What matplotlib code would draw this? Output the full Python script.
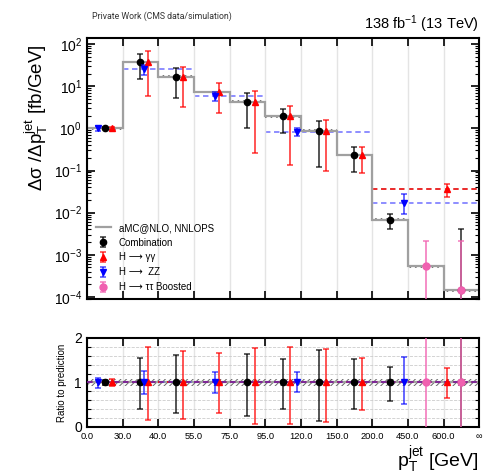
import numpy as np
import matplotlib
matplotlib.use("Agg")
import matplotlib.pyplot as plt
from matplotlib.ticker import MultipleLocator, FixedLocator, LogLocator, NullFormatter

plt.rcParams['font.family'] = ['Liberation Sans', 'DejaVu Sans']
plt.rcParams['mathtext.fontset'] = 'custom'
plt.rcParams['mathtext.rm'] = 'Liberation Sans'
plt.rcParams['mathtext.it'] = 'Liberation Sans:italic'
plt.rcParams['mathtext.bf'] = 'Liberation Sans:bold'
plt.rcParams['hatch.linewidth'] = 0.7

# ---------------- data ----------------
edge_labels = ["0.0", "30.0", "40.0", "55.0", "75.0", "95.0", "120.0",
               "150.0", "200.0", "450.0", "600.0", "∞"]
prediction = [1.0, 38.0, 16.8, 7.3, 4.3, 1.92, 0.88, 0.233, 0.0068, 5.3e-4, 1.44e-4]
pred_unc = 0.07

comb_lo = [0, 1, 2, 4, 5, 6, 7, 8, 10]
comb_hi = [1, 2, 3, 5, 6, 7, 8, 9, 11]
comb_val = [1.0, 38.0, 16.8, 4.3, 1.92, 0.88, 0.233, 0.0068, 1.44e-4]
comb_up = [1.05, 1.55, 1.61, 1.63, 1.52, 1.73, 1.52, 1.35, 28.0]
comb_dn = [0.94, 0.40, 0.31, 0.24, 0.40, 0.14, 0.40, 0.59, -5.0]

gg_lo = [0, 1, 2, 3, 4, 5, 6, 7, 8]
gg_hi = [1, 2, 3, 4, 5, 6, 7, 8, 11]
gg_val = [1.0, 38.0, 16.8, 7.3, 4.3, 1.92, 0.88, 0.233, 0.036]
gg_up = [1.08, 1.80, 1.71, 1.66, 1.78, 1.80, 1.75, 1.54, 1.32]
gg_dn = [0.91, 0.155, 0.19, 0.32, 0.06, 0.07, 0.11, 0.38, 0.65]

zz_lo = [0, 1, 3, 5, 8]
zz_hi = [1, 3, 5, 8, 11]
zz_val = [1.0, 25.5, 5.8, 0.83, 0.0174]
zz_up = [1.11, 1.26, 1.23, 1.23, 1.57]
zz_dn = [0.88, 0.74, 0.77, 0.78, 0.52]

tt_lo = [9, 10]
tt_hi = [10, 11]
tt_val = [5.3e-4, 1.44e-4]
tt_up = [4.1, 15.0]
tt_dn = [-5.0, -5.0]

# ---------------- figure ----------------
fig = plt.figure(figsize=(4.88, 4.76), dpi=100)
ax = fig.add_axes([0.178, 0.372, 0.804, 0.548])
axr = fig.add_axes([0.178, 0.103, 0.804, 0.187])

nb = len(prediction)
edges = np.arange(nb + 1)
pred = np.array(prediction)

for a in (ax, axr):
    a.set_xlim(0, nb)
    a.xaxis.set_major_locator(FixedLocator(edges))
    a.grid(axis='x', color='#e4e4e4', lw=1.0, zorder=0)
    for s in a.spines.values():
        s.set_linewidth(1.5)
    a.tick_params(which='both', direction='in', top=True, right=True)
    a.tick_params(which='major', length=6, width=1.2)
    a.tick_params(which='minor', length=3, width=0.8)

# prediction main
ax.fill_between(edges, np.append(pred, pred[-1]) * (1 - pred_unc),
                np.append(pred, pred[-1]) * (1 + pred_unc), step='post',
                facecolor='none', edgecolor='#666666', hatch='//////', lw=0, zorder=2)
ax.stairs(pred, edges, color='#a0a0a0', lw=1.6, baseline=None, zorder=2.5,
          label='aMC@NLO, NNLOPS')

# prediction ratio
axr.fill_between([0, nb], [1 - pred_unc] * 2, [1 + pred_unc] * 2,
                 facecolor='none', edgecolor='#666666', hatch='//////', lw=0, zorder=2)
axr.axhline(1.0, color='#a0a0a0', lw=1.6, zorder=2.5)


def draw(lo, hi, val, up, dn, color, ecolor, marker, ms, shift, label, z, dashed, dls_color=None):
    lo = np.array(lo, float); hi = np.array(hi, float)
    val = np.array(val); up = np.array(up); dn = np.array(dn)
    w = hi - lo
    x = (lo + hi) / 2 + shift * w
    lower = np.maximum(val * dn, 1e-9)
    ax.errorbar(x, val, yerr=[val - lower, val * up - val], fmt=marker, color=color,
                ecolor=ecolor, ms=ms, capsize=2, elinewidth=1.3, capthick=1.2,
                zorder=z, label=label)
    ratio = val / val
    axr.errorbar(x, ratio, yerr=[ratio - dn, up - ratio], fmt=marker, color=color,
                 ecolor=ecolor, ms=ms, capsize=2, elinewidth=1.3, capthick=1.2, zorder=z)
    if dashed:
        ax.hlines(val, lo, hi, colors=dls_color, linestyles=(0, (3, 2)), lw=1.3, zorder=1.5)
        axr.hlines(ratio, lo, hi, colors=dls_color, linestyles=(0, (3, 2)), lw=1.3, zorder=2.6)


draw(comb_lo, comb_hi, comb_val, comb_up, comb_dn, 'black', (0, 0, 0, 0.72), 'o', 4.5, 0.0,
     'Combination', 3, False)
draw(gg_lo, gg_hi, gg_val, gg_up, gg_dn, 'red', (1, 0, 0, 0.72), '^', 5, 0.2,
     'H ⟶ γγ', 4, True, (0.9, 0, 0, 0.9))
draw(zz_lo, zz_hi, zz_val, zz_up, zz_dn, 'blue', (0, 0, 1, 0.65), 'v', 5, -0.2,
     'H ⟶  ZZ', 4, True, (0.2, 0.2, 1, 0.6))
draw(tt_lo, tt_hi, tt_val, tt_up, tt_dn, '#f060b0', (0.95, 0.4, 0.7, 0.8), 'o', 5, 0.0,
     'H ⟶ ττ Boosted', 5, False)

# main axis
ax.set_yscale('log')
ax.set_ylim(8.97e-5, 138.7)
ax.yaxis.set_major_locator(LogLocator(base=10, numticks=20))
ax.yaxis.set_minor_locator(LogLocator(base=10, subs=np.arange(2, 10), numticks=20))
ax.yaxis.set_minor_formatter(NullFormatter())
ax.tick_params(axis='x', labelbottom=False)
ax.tick_params(axis='y', labelsize=10)
ax.set_ylabel(r'Δσ /Δ$\mathrm{p}_{\mathrm{T}}^{\mathrm{jet}}$ [fb/GeV]',
              fontsize=13.5, loc='top')
ax.yaxis.set_label_coords(-0.095, 0.975)

h, l = ax.get_legend_handles_labels()
ax.legend(h, l, loc='lower left', bbox_to_anchor=(0.005, 0.0), frameon=False, fontsize=7,
          handlelength=1.6, handletextpad=0.8, labelspacing=0.5, borderaxespad=0.3)

# ratio axis
axr.set_ylim(0, 2)
axr.yaxis.set_major_locator(FixedLocator([0, 1, 2]))
axr.yaxis.set_minor_locator(MultipleLocator(0.2))
axr.grid(axis='y', which='both', ls='--', color='#cccccc', lw=0.6, zorder=0)
axr.tick_params(axis='y', labelsize=10)
axr.set_xticklabels(edge_labels, fontsize=6.7)
axr.set_ylabel('Ratio to prediction', fontsize=7)
axr.yaxis.set_label_coords(-0.05, 0.5)
axr.set_xlabel(r'$\mathrm{p}_{\mathrm{T}}^{\mathrm{jet}}$ [GeV]', fontsize=14, loc='right')
axr.xaxis.set_label_coords(1.0, -0.2)

fig.text(0.188, 0.966, 'Private Work (CMS data/simulation)', fontsize=6.3,
         family=['Roboto', 'DejaVu Sans'], color='#333333', va='center')
fig.text(0.982, 0.95, r'138 fb$^{-1}$ (13 TeV)', fontsize=10.5, ha='right', va='center')

fig.savefig('out.png', dpi=100)
